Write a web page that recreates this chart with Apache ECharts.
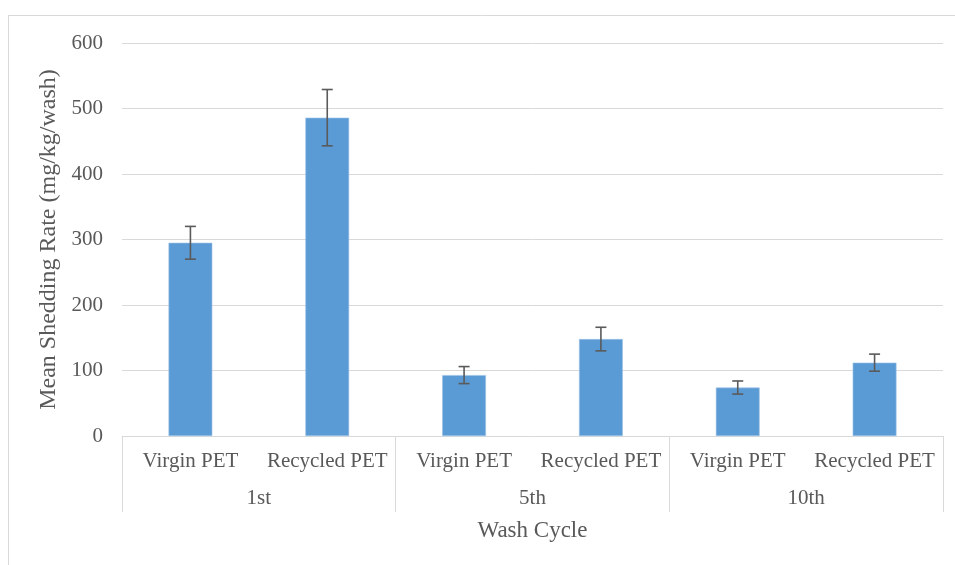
<!DOCTYPE html>
<html>
<head>
<meta charset="utf-8">
<script src="https://cdn.jsdelivr.net/npm/echarts@6/dist/echarts.min.js"></script>
<style>html,body{margin:0;padding:0;background:#fff;}#c{width:955px;height:565px;}</style>
</head>
<body>
<div id="c"></div>
<script>
const materials = ['Virgin PET','Recycled PET','Virgin PET','Recycled PET','Virgin PET','Recycled PET'];
const washCycles = ['1st','5th','10th'];
const meanRates = [295, 486, 93, 148, 74, 112];
const errors = [25, 43, 13, 18, 10, 13];
const yTicks = [0, 100, 200, 300, 400, 500, 600];

const chart = echarts.init(document.getElementById('c'));
const font = 'Liberation Serif';
const grey = '#595959';
const errData = meanRates.map((v, i) => [i, v - errors[i], v + errors[i]]);

chart.setOption({
  animation: false,
  backgroundColor: '#fff',
  graphic: [
    { type: 'line', shape: { x1: 8, y1: 15.5, x2: 955, y2: 15.5 }, style: { stroke: '#d9d9d9', lineWidth: 1 } },
    { type: 'line', shape: { x1: 8.5, y1: 15, x2: 8.5, y2: 565 }, style: { stroke: '#d9d9d9', lineWidth: 1 } }
  ],
  grid: { left: 122, right: 12, top: 43, bottom: 129 },
  xAxis: [
    {
      type: 'category', data: materials, position: 'bottom',
      axisLine: { lineStyle: { color: '#d9d9d9', width: 1 } },
      axisTick: { show: false },
      axisLabel: { color: grey, fontFamily: font, fontSize: 21, margin: 15, interval: 0 },
      name: 'Wash Cycle', nameLocation: 'middle', nameGap: 83,
      nameTextStyle: { color: grey, fontFamily: font, fontSize: 23 }
    },
    {
      type: 'category', data: washCycles, position: 'bottom', offset: 0,
      axisLine: { show: false },
      axisTick: { show: true, length: 76, lineStyle: { color: '#d9d9d9', width: 1 } },
      axisLabel: { color: grey, fontFamily: font, fontSize: 21, margin: 52 }
    }
  ],
  yAxis: {
    type: 'value', min: 0, max: 600, interval: 100,
    axisLine: { show: false }, axisTick: { show: false },
    axisLabel: { color: grey, fontFamily: font, fontSize: 21, margin: 19,
      formatter: v => yTicks.includes(v) ? String(v) : '' },
    splitLine: { lineStyle: { color: '#d9d9d9', width: 1 } },
    name: 'Mean Shedding Rate (mg/kg/wash)', nameLocation: 'middle', nameGap: 54,
    nameTextStyle: { color: grey, fontFamily: font, fontSize: 24 }
  },
  series: [
    {
      type: 'bar', data: meanRates, barWidth: '32%', xAxisIndex: 0,
      itemStyle: { color: '#5B9BD5', borderColor: '#9DC3E6', borderWidth: 0.6 }
    },
    {
      type: 'custom', xAxisIndex: 0, data: errData, z: 10,
      renderItem: (params, api) => {
        const x = api.value(0);
        const lo = api.coord([x, api.value(1)]);
        const hi = api.coord([x, api.value(2)]);
        const hw = 5.5;
        const st = { stroke: '#5a5a5a', lineWidth: 1.6 };
        return { type: 'group', children: [
          { type: 'line', shape: { x1: lo[0], y1: lo[1], x2: hi[0], y2: hi[1] }, style: st },
          { type: 'line', shape: { x1: lo[0]-hw, y1: lo[1], x2: lo[0]+hw, y2: lo[1] }, style: st },
          { type: 'line', shape: { x1: hi[0]-hw, y1: hi[1], x2: hi[0]+hw, y2: hi[1] }, style: st }
        ]};
      }
    }
  ]
});
</script>
</body>
</html>
